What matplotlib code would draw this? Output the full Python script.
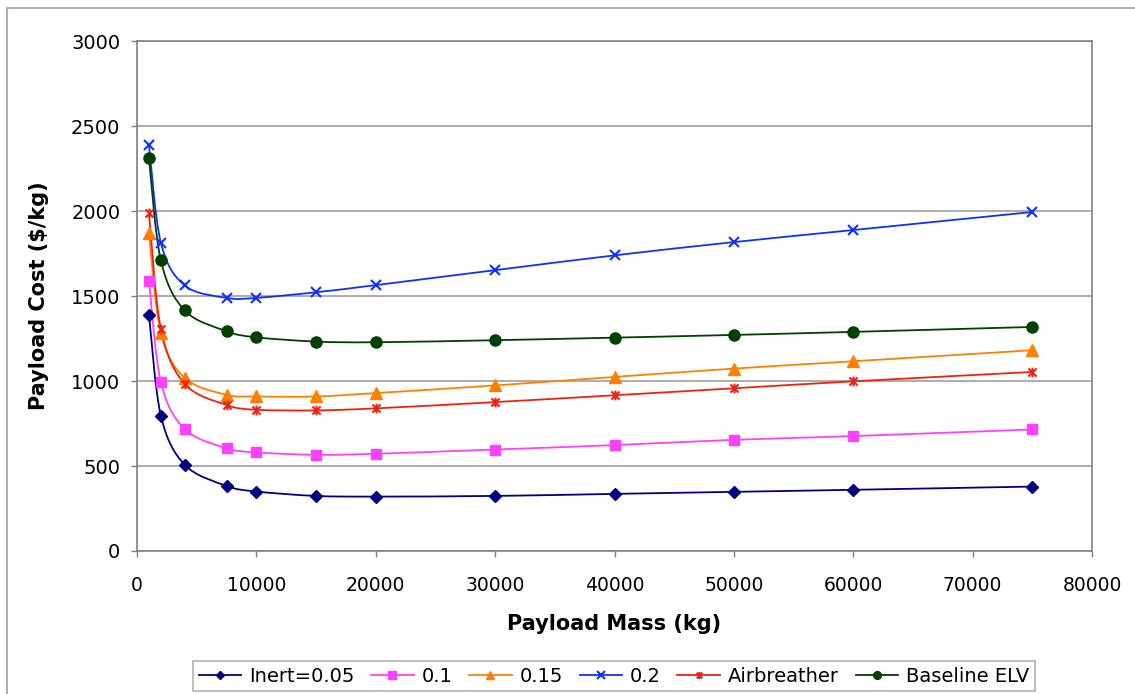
import matplotlib.pyplot as plt
import numpy as np
from matplotlib.path import Path
from matplotlib.patches import PathPatch, Rectangle

# payload mass (kg) and payload cost ($/kg)
mass = [1000, 2000, 4000, 7500, 10000, 15000, 20000, 30000, 40000, 50000, 60000, 75000]
inert_005 = [1391, 796, 507, 383, 350, 324, 320, 324, 336, 348, 360, 379]
inert_010 = [1587, 994, 717, 605, 580, 566, 572, 597, 623, 654, 676, 715]
inert_015 = [1868, 1283, 1018, 919, 909, 909, 929, 974, 1024, 1073, 1116, 1181]
inert_020 = [2389, 1813, 1562, 1489, 1489, 1522, 1564, 1652, 1739, 1817, 1888, 1994]
airbreather = [1990, 1307, 983, 859, 831, 827, 839, 876, 916, 957, 998, 1053]
baseline_elv = [2310, 1709, 1415, 1293, 1257, 1232, 1228, 1240, 1255, 1271, 1289, 1318]

labels = ['Inert=0.05', '0.1', '0.15', '0.2', 'Airbreather', 'Baseline ELV']

W, H = 1135, 694
fig = plt.figure(figsize=(W / 100, H / 100), dpi=100)
ax = fig.add_axes([137 / W, 1 - 551 / H, (1092 - 137) / W, (551 - 41) / H])

# excel style "star" marker: an x with a vertical bar
star_path = Path([(-1, -1), (1, 1), (-1, 1), (1, -1), (0, -1.2), (0, 1.2)],
                 [Path.MOVETO, Path.LINETO, Path.MOVETO, Path.LINETO, Path.MOVETO, Path.LINETO])


def smooth_path(xs, ys):
    # Excel-like smoothed line: cubic bezier through every point (catmull-rom)
    p = np.column_stack([xs, ys]).astype(float)
    ext = np.vstack([p[0], p, p[-1]])
    verts = [p[0]]
    codes = [Path.MOVETO]
    for i in range(1, len(ext) - 2):
        c1 = ext[i] + (ext[i + 1] - ext[i - 1]) / 6
        c2 = ext[i + 1] - (ext[i + 2] - ext[i]) / 6
        verts += [c1, c2, ext[i + 1]]
        codes += [Path.CURVE4] * 3
    return Path(verts, codes)


series = [
    (inert_005, '#000080', 'D', 6, None),
    (inert_010, '#FF40FF', 's', 7.5, None),
    (inert_015, '#FF8000', '^', 8.5, None),
    (inert_020, '#1030FF', 'x', 7.5, 1.5),
    (airbreather, '#F02010', star_path, 7, 1.5),
    (baseline_elv, '#004000', 'o', 8, None),
]

handles = []
for vals, col, mk, ms, mew in series:
    ax.add_patch(PathPatch(smooth_path(mass, vals), fill=False, edgecolor=col, lw=1.3, zorder=3))
    kw = dict(markeredgewidth=mew) if mew else dict(markeredgecolor=col)
    ax.plot(mass, vals, linestyle='none', marker=mk, color=col, markersize=ms, zorder=4, **kw)
    h, = ax.plot([], [], '-', color=col, lw=1.3, marker=mk,
                 markersize=ms * 0.7, **kw)
    handles.append(h)

ax.set_xlim(0, 80000)
ax.set_ylim(0, 3000)
ax.set_xticks(range(0, 80001, 10000))
ax.set_yticks(range(0, 3001, 500))
ax.yaxis.grid(True, color='#A0A0A0', lw=1.2)
ax.set_axisbelow(True)
for s in ax.spines.values():
    s.set_color('#808080')
    s.set_linewidth(1.2)
ax.tick_params(axis='both', direction='out', length=4, color='#808080', width=1.0, labelsize=14)
ax.tick_params(axis='y', pad=8)
ax.tick_params(axis='x', pad=14, labelsize=13.5)

ax.set_xlabel('Payload Mass (kg)', fontsize=15, fontweight='bold', labelpad=14)
ax.set_ylabel('Payload Cost ($/kg)', fontsize=15, fontweight='bold', labelpad=16)

leg = fig.legend(handles, labels, loc='center', ncol=6,
                 bbox_to_anchor=(614 / W, 1 - 676 / H), fontsize=14,
                 frameon=True, fancybox=False, handlelength=2.2,
                 handletextpad=0.4, columnspacing=0.85, borderpad=0.3)
leg.get_frame().set_edgecolor('#A0A0A0')
leg.get_frame().set_linewidth(1.2)

# outer chart-area border (cut off at the right and bottom in the original)
fig.patches.append(Rectangle((7 / W, -0.05), 1.1, 1 - 8 / H + 0.05, transform=fig.transFigure,
                             fill=False, edgecolor='#B0B0B0', lw=1.5, zorder=0))

fig.savefig('out.png', dpi=100)
